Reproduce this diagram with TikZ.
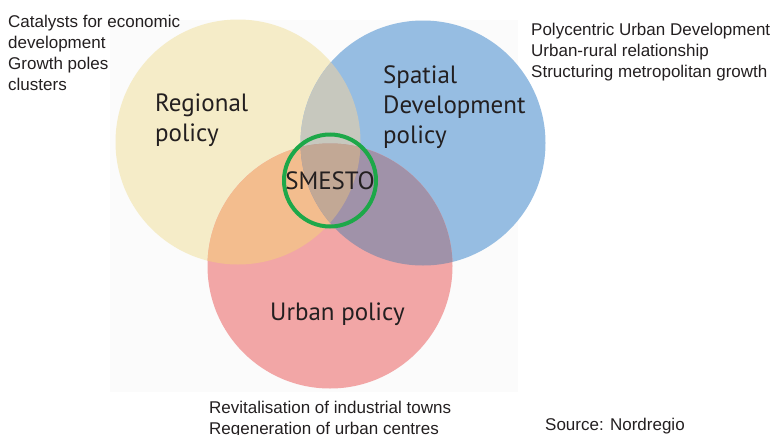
\documentclass[tikz,border=0pt]{standalone}
\usepackage{fontspec}
\setmainfont{Liberation Sans}
\newfontfamily\vennfont{PT Sans}
\usetikzlibrary{positioning}

\definecolor{regional}{HTML}{F5ECC8}
\definecolor{spatial}{HTML}{96BDE2}
\definecolor{urban}{HTML}{F2A6A6}
\definecolor{regspat}{HTML}{C7C8BE}
\definecolor{regurb}{HTML}{F3BD8E}
\definecolor{spaturb}{HTML}{A092A9}
\definecolor{allthree}{HTML}{C2A895}
\definecolor{smesto}{HTML}{1DA849}
\definecolor{ink}{HTML}{231F20}
\definecolor{sheet}{HTML}{FBFBFB}

\tikzset{
  policy/.style={font=\vennfont\fontsize{25}{30}\selectfont, text=ink,
    align=left, inner sep=0pt},
  note/.style={font=\fontsize{17}{21}\selectfont, text=ink, align=left,
    inner sep=0pt, anchor=north west},
}

\begin{document}
\begin{tikzpicture}[x=1pt, y=-1pt]
	\useasboundingbox (0,0) rectangle (774,434);
	\fill[sheet] (110,20) rectangle (518,392);

	\coordinate (reg) at (238,142);
	\coordinate (spat) at (423,143);
	\coordinate (urb) at (330,266);
	\coordinate (mid) at (330,180.5);

	% the three policy fields
	\fill[regional] (reg) circle [radius=122.5pt];
	\fill[spatial] (spat) circle [radius=122.5pt];
	\fill[urban] (urb) circle [radius=122.5pt];

	% overlaps
	\begin{scope}
		\clip (reg) circle [radius=122.5pt];
		\fill[regspat] (spat) circle [radius=122.5pt];
		\fill[regurb] (urb) circle [radius=122.5pt];
	\end{scope}
	\begin{scope}
		\clip (spat) circle [radius=122.5pt];
		\fill[spaturb] (urb) circle [radius=122.5pt];
		\clip (reg) circle [radius=122.5pt];
		\fill[allthree] (urb) circle [radius=122.5pt];
	\end{scope}

	\draw[smesto, line width=4pt] (mid) circle [radius=46pt];

	\node[policy, anchor=north west] (regional) at (155,94) {Regional\\policy};
	\node[policy, anchor=north west] (spatial) at (383,65.5) {Spatial\\Development\\policy};
	\node[policy, anchor=base west] (urban) at (270,320) {Urban policy};
	\node[policy, anchor=base] (smesto) at (330,189.5) {SMESTO};

	\node[note] (catalysts) at (8,15) {Catalysts for economic\\development\\Growth poles\\clusters};
	\node[note] (polycentric) at (531,23) {Polycentric Urban Development\\Urban-rural relationship\\Structuring metropolitan growth};
	\node[note] (revitalise) at (209,401) {Revitalisation of industrial towns\\Regeneration of urban centres};
	\node[note] (source) at (545,418) {Source: Nordregio};
\end{tikzpicture}
\end{document}
